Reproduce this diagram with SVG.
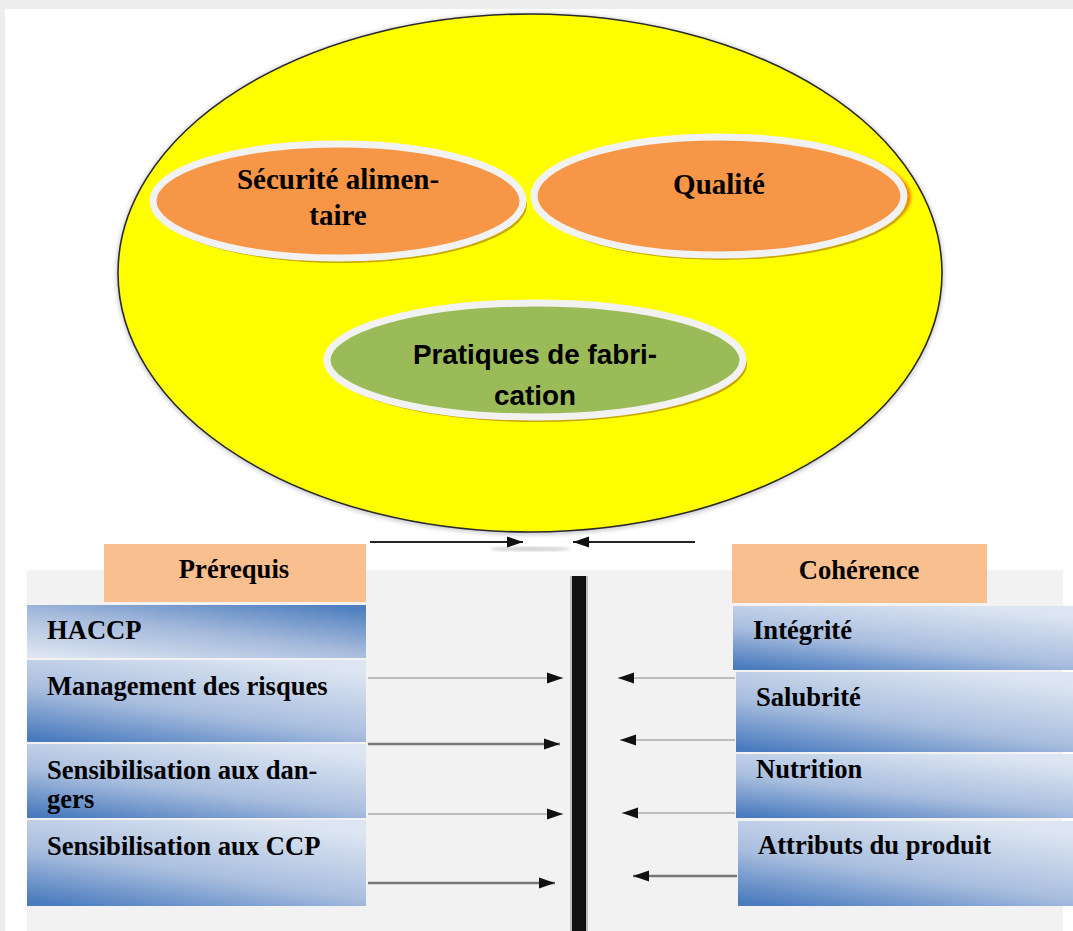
<svg xmlns="http://www.w3.org/2000/svg" width="1073" height="931" viewBox="0 0 1073 931">
  <style>
    .serif { font-family: "Liberation Serif", "Times New Roman", serif; font-weight: bold; fill: #000; }
    .big { font-size: 29px; }
    .box-text { font-size: 26.6px; }
    .sans { font-family: "Liberation Sans", Arial, sans-serif; font-weight: bold; font-size: 27.8px; fill: #000; }
    .header { fill: #F9BF8F; }
    .inner { stroke: #F2F2F2; stroke-width: 7; }
    .shade { fill: #C9A800; }
    .conn-light { stroke: #BDBDBD; stroke-width: 2; fill: none; }
    .conn-dark { stroke: #777777; stroke-width: 2.5; fill: none; }
    .conn-top { stroke: #222; stroke-width: 2; fill: none; }
  </style>
  <defs>
    <linearGradient id="blueUp" x1="0.1" y1="1" x2="0.7" y2="0">
      <stop offset="0" stop-color="#4A7BBE"/>
      <stop offset="0.45" stop-color="#A9BEDF"/>
      <stop offset="1" stop-color="#DCE5F1"/>
    </linearGradient>
    <linearGradient id="blueDown" x1="0.1" y1="1" x2="0.9" y2="0">
      <stop offset="0" stop-color="#DCE5F1"/>
      <stop offset="0.5" stop-color="#A5BADC"/>
      <stop offset="1" stop-color="#4F7FBF"/>
    </linearGradient>
    <filter id="soft" x="-5%" y="-5%" width="110%" height="110%">
      <feGaussianBlur stdDeviation="2"/>
    </filter>
    <filter id="glow" x="-10%" y="-20%" width="120%" height="140%">
      <feGaussianBlur stdDeviation="1.5"/>
    </filter>
    <marker id="tip" viewBox="0 0 16 12" refX="16" refY="6" markerWidth="16" markerHeight="12" markerUnits="userSpaceOnUse" orient="auto">
      <path d="M0,0.5 L16,6 L0,11.5 Z" fill="#111"/>
    </marker>
  </defs>

  <!-- page frame -->
  <rect x="0" y="0" width="1073" height="931" fill="#EDEDED"/>
  <rect x="5" y="9" width="1068" height="922" fill="#FFFFFF"/>

  <!-- large yellow oval -->
  <g id="oval-main">
    <ellipse cx="530" cy="274" rx="414" ry="261" fill="#9A9AA6" opacity="0.5" filter="url(#soft)"/>
    <ellipse cx="530" cy="273" rx="412" ry="259" fill="#FFFF00" stroke="#2A2A2A" stroke-width="1.6"/>
  </g>

  <g id="node-securite">
    <ellipse class="shade" cx="341" cy="205" rx="186" ry="58"/>
    <ellipse class="inner" cx="338" cy="201" rx="185" ry="57" fill="#F79646"/>
    <text class="serif big" x="338" y="189" text-anchor="middle">Sécurité alimen-</text>
    <text class="serif big" x="338" y="225" text-anchor="middle">taire</text>
  </g>

  <g id="node-qualite">
    <ellipse cx="723" cy="197" rx="188" ry="60" fill="#FF7A00" filter="url(#glow)"/>
    <ellipse class="shade" cx="722" cy="200" rx="186" ry="60"/>
    <ellipse class="inner" cx="719" cy="196" rx="185" ry="59" fill="#F79646"/>
    <text class="serif big" x="719" y="194" text-anchor="middle">Qualité</text>
  </g>

  <g id="node-pratiques">
    <ellipse class="shade" cx="538" cy="364" rx="209" ry="58"/>
    <ellipse class="inner" cx="535" cy="360" rx="208" ry="57" fill="#9BBB59"/>
    <text class="sans" x="535" y="364" text-anchor="middle">Pratiques de fabri-</text>
    <text class="sans" x="535" y="405" text-anchor="middle">cation</text>
  </g>

  <!-- lower panel background -->
  <rect x="27" y="570" width="1036" height="361" fill="#F2F2F2"/>

  <g id="header-prerequis">
    <rect class="header" x="104" y="544" width="262" height="58"/>
    <text class="serif box-text" x="234" y="578" text-anchor="middle">Prérequis</text>
  </g>
  <g id="header-coherence">
    <rect class="header" x="732" y="544" width="255" height="59"/>
    <text class="serif box-text" x="859" y="579" text-anchor="middle">Cohérence</text>
  </g>

  <!-- prerequisite items -->
  <g id="node-haccp">
    <rect x="27" y="605" width="339" height="53" fill="url(#blueDown)"/>
    <text class="serif box-text" x="47" y="639">HACCP</text>
  </g>
  <g id="node-management">
    <rect x="27" y="660" width="339" height="82" fill="url(#blueUp)"/>
    <text class="serif box-text" x="47" y="695">Management des risques</text>
  </g>
  <g id="node-dangers">
    <rect x="27" y="744" width="339" height="74" fill="url(#blueUp)"/>
    <text class="serif box-text" x="47" y="779">Sensibilisation aux dan-</text>
    <text class="serif box-text" x="47" y="808">gers</text>
  </g>
  <g id="node-ccp">
    <rect x="27" y="820" width="339" height="86" fill="url(#blueUp)"/>
    <text class="serif box-text" x="47" y="855">Sensibilisation aux CCP</text>
  </g>

  <!-- coherence items -->
  <g id="node-integrite">
    <rect x="733" y="606" width="340" height="64" fill="url(#blueUp)"/>
    <text class="serif box-text" x="753" y="639">Intégrité</text>
  </g>
  <g id="node-salubrite">
    <rect x="736" y="672" width="337" height="80" fill="url(#blueUp)"/>
    <text class="serif box-text" x="756" y="706">Salubrité</text>
  </g>
  <g id="node-nutrition">
    <rect x="736" y="754" width="337" height="64" fill="url(#blueUp)"/>
    <text class="serif box-text" x="756" y="778">Nutrition</text>
  </g>
  <g id="node-attributs">
    <rect x="738" y="821" width="335" height="85" fill="url(#blueUp)"/>
    <text class="serif box-text" x="758" y="854">Attributs du produit</text>
  </g>

  <!-- central bar -->
  <g id="node-bar">
    <rect x="570" y="576" width="18" height="355" fill="#BDBDBD"/>
    <rect x="572" y="576" width="14" height="355" fill="#111111"/>
  </g>

  <!-- connectors -->
  <g id="connectors">
    <ellipse cx="530" cy="549" rx="40" ry="2" fill="#CCCCCC" filter="url(#glow)"/>
    <line class="conn-top" x1="370" y1="542" x2="523" y2="542" marker-end="url(#tip)"/>
    <line class="conn-top" x1="695" y1="542" x2="573" y2="542" marker-end="url(#tip)"/>

    <line class="conn-light" x1="368" y1="678" x2="563" y2="678" marker-end="url(#tip)"/>
    <line class="conn-dark" x1="368" y1="744" x2="560" y2="744" marker-end="url(#tip)"/>
    <line class="conn-light" x1="368" y1="814" x2="563" y2="814" marker-end="url(#tip)"/>
    <line class="conn-dark" x1="368" y1="883" x2="555" y2="883" marker-end="url(#tip)"/>

    <line class="conn-light" x1="735" y1="678" x2="618" y2="678" marker-end="url(#tip)"/>
    <line class="conn-light" x1="735" y1="740" x2="620" y2="740" marker-end="url(#tip)"/>
    <line class="conn-light" x1="735" y1="813" x2="622" y2="813" marker-end="url(#tip)"/>
    <line class="conn-dark" x1="737" y1="876" x2="633" y2="876" marker-end="url(#tip)"/>
  </g>
</svg>
